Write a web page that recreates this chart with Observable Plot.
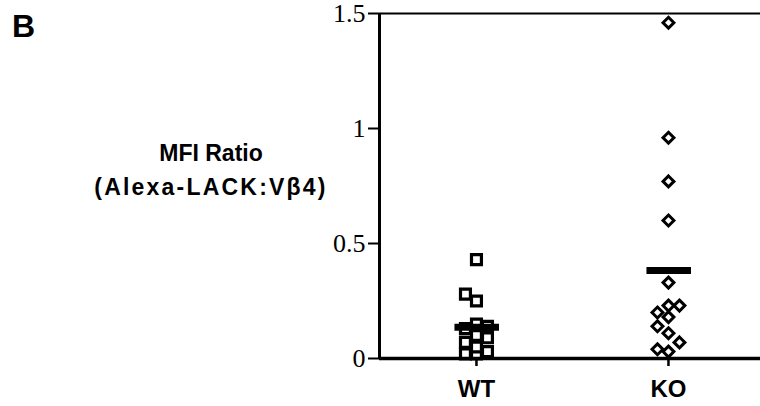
<!DOCTYPE html>
<html>
<head>
<meta charset="utf-8">
<script src="https://cdn.jsdelivr.net/npm/d3@7"></script>
<script src="https://cdn.jsdelivr.net/npm/@observablehq/plot@0.6"></script>
<style>
  html, body { margin: 0; padding: 0; background: #fff; }
  #wrap { position: relative; width: 760px; height: 406px; overflow: hidden; }
  #panel { position: absolute; left: 12px; top: 8px; font: bold 32px "Liberation Sans", Arial, sans-serif; color: #000; }
  #ylab { position: absolute; left: 61px; top: 136px; width: 300px; text-align: center;
          font: bold 23px "Liberation Sans", Arial, sans-serif; color: #000; line-height: 34px; }
  #ylab .l2 { letter-spacing: 2.2px; }
  svg { position: absolute; left: 0; top: 0; }
</style>
</head>
<body>
<div id="wrap">
  <div id="panel">B</div>
  <div id="ylab"><div>MFI Ratio</div><div class="l2">(Alexa-LACK:Vβ4)</div></div>
</div>
<script>
// ---- data ----
const groups = ["WT", "KO"];
const wtValues = [0.43, 0.28, 0.25, 0.15, 0.14, 0.13, 0.10, 0.09, 0.07, 0.05, 0.03, 0.02, 0.02];
const koValues = [1.46, 0.96, 0.77, 0.60, 0.33, 0.23, 0.23, 0.20, 0.18, 0.14, 0.11, 0.07, 0.04, 0.03];
const yTicks = [0, 0.5, 1, 1.5];

// ---- layout ----
const width = 760, height = 406;
const marginLeft = 379, marginRight = 20, marginTop = 13, marginBottom = 48;
const pxPerX = 192;
const xDomain = [-0.505, -0.505 + (width - marginLeft - marginRight) / pxPerX];
const yDomain = [0, 1.5];
const pxPerY = (height - marginTop - marginBottom) / (yDomain[1] - yDomain[0]);

// simple deterministic dodge so overlapping markers spread sideways
function layout(values, gi, group) {
  const sorted = values.slice().sort((a, b) => a - b);
  const placed = [];
  const cands = [0, -11, 11];
  for (const v of sorted) {
    let best = null, bestD = -1;
    for (const c of cands) {
      let minD = Infinity;
      for (const p of placed) {
        const dx = c - p.px, dy = (v - p.value) * pxPerY;
        minD = Math.min(minD, Math.hypot(dx, dy));
      }
      if (minD >= 11) { best = c; bestD = minD; break; }
      if (minD > bestD) { bestD = minD; best = c; }
    }
    placed.push({ value: v, px: best });
  }
  return placed.map(p => ({ group, value: p.value, x: gi + p.px / pxPerX }));
}
const wtPoints = layout(wtValues, 0, "WT");
const koPoints = layout(koValues, 1, "KO");
const means = [
  { g: 0, mean: d3.mean(wtValues) },
  { g: 1, mean: d3.mean(koValues) }
];

const chart = Plot.plot({
  width, height, marginLeft, marginRight, marginTop, marginBottom,
  style: { background: "transparent", color: "#000", overflow: "visible" },
  x: { domain: xDomain, axis: null },
  y: { domain: yDomain, axis: null },
  marks: [
    Plot.axisY({ ticks: yTicks, tickFormat: d => String(d), tickSize: 11, tickPadding: 3,
      strokeWidth: 2, fontSize: 26, fontFamily: "'Liberation Serif', 'Times New Roman', serif", label: null }),
    Plot.axisX({ ticks: [0, 1], tickFormat: i => groups[i], tickSize: 8, tickPadding: 13,
      strokeWidth: 2.5, fontSize: 24, fontWeight: "bold", fontFamily: "'Liberation Sans', Arial, sans-serif", label: null }),
    Plot.ruleY([1.5], { x1: xDomain[0], x2: xDomain[0] + 381 / pxPerX, strokeWidth: 2 }),
    Plot.ruleX([xDomain[0]], { y1: 0, y2: 1.5, strokeWidth: 3 }),
    Plot.dot(wtPoints, { x: "x", y: "value", symbol: "square", r: 5.6, stroke: "#000", fill: "#fff", strokeWidth: 3.2 }),
    Plot.dot(koPoints, { x: "x", y: "value", symbol: "diamond2", r: 4.9, stroke: "#000", fill: "#fff", strokeWidth: 3 }),
    Plot.ruleY(means, { y: "mean", x1: d => d.g - 0.112, x2: d => d.g + 0.12, strokeWidth: 7 }),
    Plot.ruleY([0], { x1: xDomain[0], x2: xDomain[0] + 381 / pxPerX, strokeWidth: 3.5 })
  ]
});
document.getElementById("wrap").appendChild(chart);
</script>
</body>
</html>
